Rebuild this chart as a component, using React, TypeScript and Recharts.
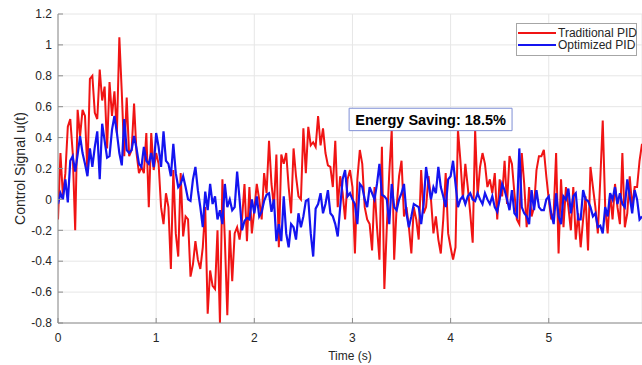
import React from 'react';
import { LineChart, Line, XAxis, YAxis, CartesianGrid, Legend, ReferenceArea, Label } from 'recharts';

// sampling step of the time axis (s)
const STEP = 0.025;
const X_MAX = 5.95;

const xTicks = [0, 1, 2, 3, 4, 5];
const yTicks = [-0.8, -0.6, -0.4, -0.2, 0, 0.2, 0.4, 0.6, 0.8, 1, 1.2];

const seriesNames = ['Traditional PID', 'Optimized PID'];
const annotationText = 'Energy Saving: 18.5%';
const annotationBox = { x1: 2.966, x2: 4.626, y1: 0.445, y2: 0.59 };

const traditionalPID = [
  -0.13, 0.30, 0.02, 0.17, 0.47, 0.52, 0.30, -0.20, 0.58, 0.41,
  0.58, 0.54, 0.17, 0.78, 0.80, 0.56, 0.52, 0.84, 0.64, 0.73,
  0.33, 0.76, 0.54, 0.70, 0.43, 1.05, 0.69, 0.28, 0.66, 0.28,
  0.32, 0.62, 0.30, 0.17, 0.21, 0.17, 0.43, -0.05, 0.43, 0.19,
  0.30, 0.23, -0.05, -0.16, 0.04, -0.05, -0.45, 0.19, -0.22, -0.37,
  0.17, -0.24, -0.11, -0.13, -0.50, -0.42, -0.27, -0.39, -0.45,
  -0.31, -0.05, -0.74, -0.46, -0.56, -0.58, -0.20, -0.80, 0.13, -0.26,
  -0.75, -0.20, -0.53, -0.22, -0.18, -0.26, -0.13, 0.10, -0.27, 0.08,
  -0.22, -0.07, 0.10, 0.00, -0.13, 0.17, 0.04, 0.38, 0.10, -0.05,
  0.29, -0.31, 0.29, 0.23, 0.30, 0.08, -0.09, 0.33, 0.15, 0.02,
  0.00, 0.46, 0.17, 0.47, 0.35, 0.37, 0.34, 0.54, 0.35, 0.46,
  0.30, 0.22, 0.21, 0.08, 0.38, -0.05, 0.15, 0.04, -0.13,
  0.13, 0.19, 0.08, -0.35, 0.13, 0.32, 0.23, -0.05, -0.13, -0.16,
  -0.33, 0.08, -0.18, -0.39, 0.34, -0.58, -0.18, 0.17, 0.45, -0.39,
  -0.05, 0.15, 0.25, -0.11, -0.05, -0.18, -0.35, -0.05, -0.13, -0.26,
  0.19, -0.09, -0.05, 0.15, 0.00, -0.22, -0.11, -0.26, -0.35, -0.13,
  0.17, -0.22, -0.31, -0.39, -0.31, 0.45, 0.25, 0.00, 0.23, 0.08,
  -0.09, -0.28, 0.45, 0.02, 0.21, 0.30, 0.23, 0.08, 0.13,
  0.04, 0.17, -0.13, 0.13, 0.02, 0.25, -0.03, 0.28, 0.23, 0.04,
  -0.13, -0.16, 0.30, 0.10, -0.18, 0.08, -0.11, -0.05, 0.19, 0.28,
  0.28, 0.32, 0.15, 0.00, -0.13, -0.09, 0.30, -0.35, 0.13, -0.18,
  0.08, -0.05, -0.20, 0.08, -0.26, -0.09, -0.31, -0.13, 0.02, -0.33,
  0.21, 0.08, -0.05, -0.22, 0.13, 0.51, -0.05, -0.22, 0.04, -0.13,
  0.10, -0.05, -0.16, 0.30, -0.18, -0.09, 0.15, -0.05, 0.08, 0.08,
  0.25, 0.36,
];

const optimizedPID = [
  -0.03, 0.04, 0.00, 0.13, -0.02, 0.25, 0.28, 0.18, 0.29, 0.41,
  0.30, 0.23, 0.15, 0.33, 0.21, 0.34, 0.44, 0.13, 0.49, 0.38,
  0.27, 0.28, 0.45, 0.54, 0.43, 0.30, 0.22, 0.52, 0.32, 0.30,
  0.32, 0.41, 0.33, 0.23, 0.21, 0.34, 0.25, 0.23, 0.30, 0.21,
  0.43, 0.34, 0.21, 0.44, 0.25, 0.23, 0.15, 0.36, 0.17, 0.08,
  0.10, 0.15, 0.08, 0.00, -0.01, 0.13, 0.21, 0.06, -0.05,
  -0.18, 0.05, -0.07, 0.10, -0.03, 0.02, -0.13, -0.07, -0.16, 0.10,
  -0.05, 0.00, -0.07, -0.05, 0.18, 0.00, -0.20, -0.14, -0.12, -0.13,
  0.00, -0.09, 0.02, -0.11, -0.08, -0.01, 0.03, 0.04, -0.08, 0.00,
  -0.27, -0.16, -0.27, 0.02, -0.22, -0.31, -0.16, -0.18, -0.26, -0.09,
  -0.18, -0.11, -0.01, 0.00, -0.22, -0.37, -0.06, -0.03, 0.04, -0.09,
  -0.03, 0.06, -0.09, -0.11, -0.16, -0.24, -0.05, 0.13, 0.19,
  0.02, 0.04, 0.00, -0.03, -0.16, 0.10, 0.08, 0.00, -0.05, 0.08,
  0.04, 0.00, 0.10, 0.23, 0.03, 0.02, 0.00, -0.16, 0.10, -0.05,
  -0.07, 0.00, 0.04, 0.10, -0.09, -0.18, -0.11, -0.03, -0.04, -0.05,
  -0.16, -0.03, 0.21, 0.10, 0.00, 0.08, 0.04, 0.21, 0.08, 0.02,
  -0.05, 0.13, 0.15, 0.25, 0.10, -0.05, 0.00, 0.02, -0.03, 0.02,
  0.04, 0.00, -0.01, 0.04, 0.00, -0.03, 0.04, 0.00, -0.03,
  0.02, -0.05, -0.08, 0.00, 0.10, 0.06, 0.00, -0.07, 0.06, -0.09,
  -0.11, 0.33, -0.05, -0.09, -0.11, -0.16, 0.06, -0.07, 0.06, -0.05,
  -0.07, -0.07, 0.00, 0.02, -0.09, -0.16, 0.04, -0.11, -0.16, 0.02,
  0.00, 0.07, -0.09, 0.02, 0.04, -0.13, -0.13, 0.06, 0.00, -0.01,
  -0.05, -0.11, -0.09, -0.18, -0.17, -0.22, -0.05, -0.11, 0.04, 0.00,
  0.08, -0.03, 0.04, -0.03, -0.05, 0.13, 0.02, -0.09, 0.06, 0.00,
  -0.13, -0.11,
];

const data = traditionalPID.map((v, i) => ({
  t: i * STEP,
  trad: v,
  opt: optimizedPID[i],
}));

const FONT = '"Liberation Sans", Arial, Helvetica, sans-serif';
const TEXT = '#262626';
const AXIS = '#8c8c8c';
const RED = '#f01414';
const BLUE = '#1414f0';
const seriesColors = [RED, BLUE];

const fmtY = (v: number) => String(Math.round(v * 10) / 10);

const renderLegend = () => (
  <div
    style={{
      position: 'relative',
      width: 121,
      height: 33,
      boxSizing: 'border-box',
      border: '1px solid #a6a6a6',
      background: '#fff',
      fontFamily: FONT,
      fontSize: 12,
      lineHeight: '12px',
      color: TEXT,
    }}
  >
    {seriesNames.map((name, i) => (
      <div
        key={name}
        style={{ position: 'absolute', left: 1, top: 2.5 + i * 12.5, height: 12, width: 118, whiteSpace: 'nowrap' }}
      >
        <svg width={38} height={12} style={{ position: 'absolute', left: 0, top: 0 }}>
          <line x1={0} y1={6} x2={38} y2={6} stroke={seriesColors[i]} strokeWidth={2} />
        </svg>
        <span style={{ position: 'absolute', left: 40, top: 0, lineHeight: '12px' }}>{name}</span>
      </div>
    ))}
  </div>
);

const YLabel = (props: any) => {
  const vb = props.viewBox || { x: 0, y: 14, width: 58, height: 309 };
  const cx = vb.x + 20;
  const cy = vb.y + vb.height / 2;
  return (
    <text
      x={cx}
      y={cy}
      transform={`rotate(-90 ${cx} ${cy})`}
      textAnchor="middle"
      dominantBaseline="central"
      fontFamily={FONT}
      fontSize={14}
      fill={TEXT}
    >
      Control Signal u(t)
    </text>
  );
};

export default function App() {
  return (
    <div style={{ position: 'absolute', left: 0, top: 0, width: 642, height: 365, background: '#fff', overflow: 'hidden' }}>
      <LineChart width={642} height={365} data={data} margin={{ top: 14, right: 0, bottom: 0, left: 0 }}>
        <CartesianGrid stroke="#e6e6e6" strokeWidth={1} />
        <XAxis
          xAxisId="top"
          orientation="top"
          type="number"
          dataKey="t"
          domain={[0, X_MAX]}
          ticks={xTicks}
          interval={0}
          height={0}
          tick={false}
          tickSize={-5}
          axisLine={{ stroke: AXIS }}
          tickLine={{ stroke: AXIS }}
        />
        <XAxis
          type="number"
          dataKey="t"
          domain={[0, X_MAX]}
          allowDataOverflow
          ticks={xTicks}
          interval={0}
          height={42}
          tickSize={-5}
          tickMargin={15}
          axisLine={{ stroke: AXIS }}
          tickLine={{ stroke: AXIS }}
          tick={{ fill: TEXT, fontSize: 12, fontFamily: FONT }}
        >
          <Label value="Time (s)" position="insideBottom" offset={5} fill={TEXT} fontSize={12} fontFamily={FONT} />
        </XAxis>
        <YAxis
          type="number"
          domain={[-0.8, 1.2]}
          allowDataOverflow
          ticks={yTicks}
          interval={0}
          width={58}
          tickSize={-5}
          tickMargin={11}
          tickFormatter={fmtY}
          axisLine={{ stroke: AXIS }}
          tickLine={{ stroke: AXIS }}
          tick={{ fill: TEXT, fontSize: 12, fontFamily: FONT }}
        >
          <Label content={YLabel} />
        </YAxis>
        <Line
          name={seriesNames[0]}
          type="linear"
          dataKey="trad"
          stroke={RED}
          strokeWidth={2}
          dot={false}
          activeDot={false}
          isAnimationActive={false}
        />
        <Line
          name={seriesNames[1]}
          type="linear"
          dataKey="opt"
          stroke={BLUE}
          strokeWidth={2.2}
          dot={false}
          activeDot={false}
          isAnimationActive={false}
        />
        <ReferenceArea
          x1={annotationBox.x1}
          x2={annotationBox.x2}
          y1={annotationBox.y1}
          y2={annotationBox.y2}
          fill="#ffffff"
          fillOpacity={1}
          stroke="#7f8fd6"
          strokeWidth={1}
          ifOverflow="visible"
          zIndex={1000}
          label={{ value: annotationText, position: 'center', fill: '#000', fontSize: 14.5, fontWeight: 'bold', fontFamily: FONT }}
        />
        <Legend
          layout="vertical"
          align="center"
          verticalAlign="middle"
          wrapperStyle={{ left: 516, top: 23, width: 121 }}
          content={renderLegend}
        />
      </LineChart>
    </div>
  );
}
